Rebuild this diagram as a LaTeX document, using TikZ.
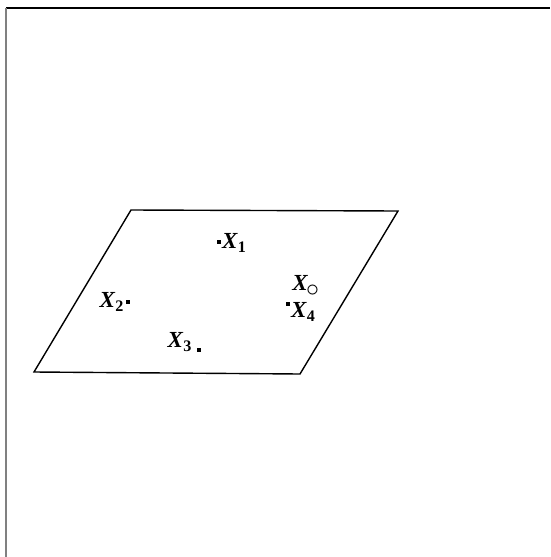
\documentclass[tikz,border=0pt]{standalone}
\usepackage{amsmath,amssymb}
\usepackage{fontspec}
\setmainfont{Liberation Serif}
\usepackage{tikz}
\usetikzlibrary{positioning}

\newcommand{\Xpt}[1]{\textbf{\textit{X}}\textsubscript{\textbf{#1}}}

\begin{document}
\begin{tikzpicture}[
      x=1pt, y=-1pt,
      spot/.style={rectangle, fill=black, inner sep=0pt, minimum size=3.4pt},
      lbl/.style={inner sep=0pt, font=\fontsize{23}{25}\selectfont},
      edge/.style={line width=1.4pt, line join=miter}]
    \useasboundingbox (0,0) rectangle (550,557);
    % frame, only top and left show
    \draw[line width=1.2pt] (6,8) -- (550,8);
    \draw[line width=1.5pt, black!50] (6,8) -- (6,557);
    % plane
    \coordinate (tl) at (131,210);
    \coordinate (tr) at (398,211);
    \coordinate (br) at (300,374);
    \coordinate (bl) at (34,372);
    \draw[edge] (tl) -- (tr) -- (br) -- (bl) -- cycle;
    % points
    \node[spot] (p1) at (219,242) {};
    \node[lbl, right=1pt of p1, yshift=-1pt] (x1) {\Xpt{1}};
    \node[spot] (p2) at (128,302) {};
    \node[lbl, left=2pt of p2] (x2) {\Xpt{2}};
    \node[spot] (p3) at (199,350) {};
    \node[lbl, left=5pt of p3, yshift=8pt] (x3) {\Xpt{3}};
    \node[lbl] (x0) at (306,286) {\Xpt{\hspace{-2pt}\raisebox{-2.5pt}{\scalebox{1.5}{$\circ$}}}};
    \node[spot] (p4) at (288,304) {};
    \node[lbl, right=1pt of p4, yshift=-8pt] (x4) {\Xpt{4}};
  \end{tikzpicture}
\end{document}
